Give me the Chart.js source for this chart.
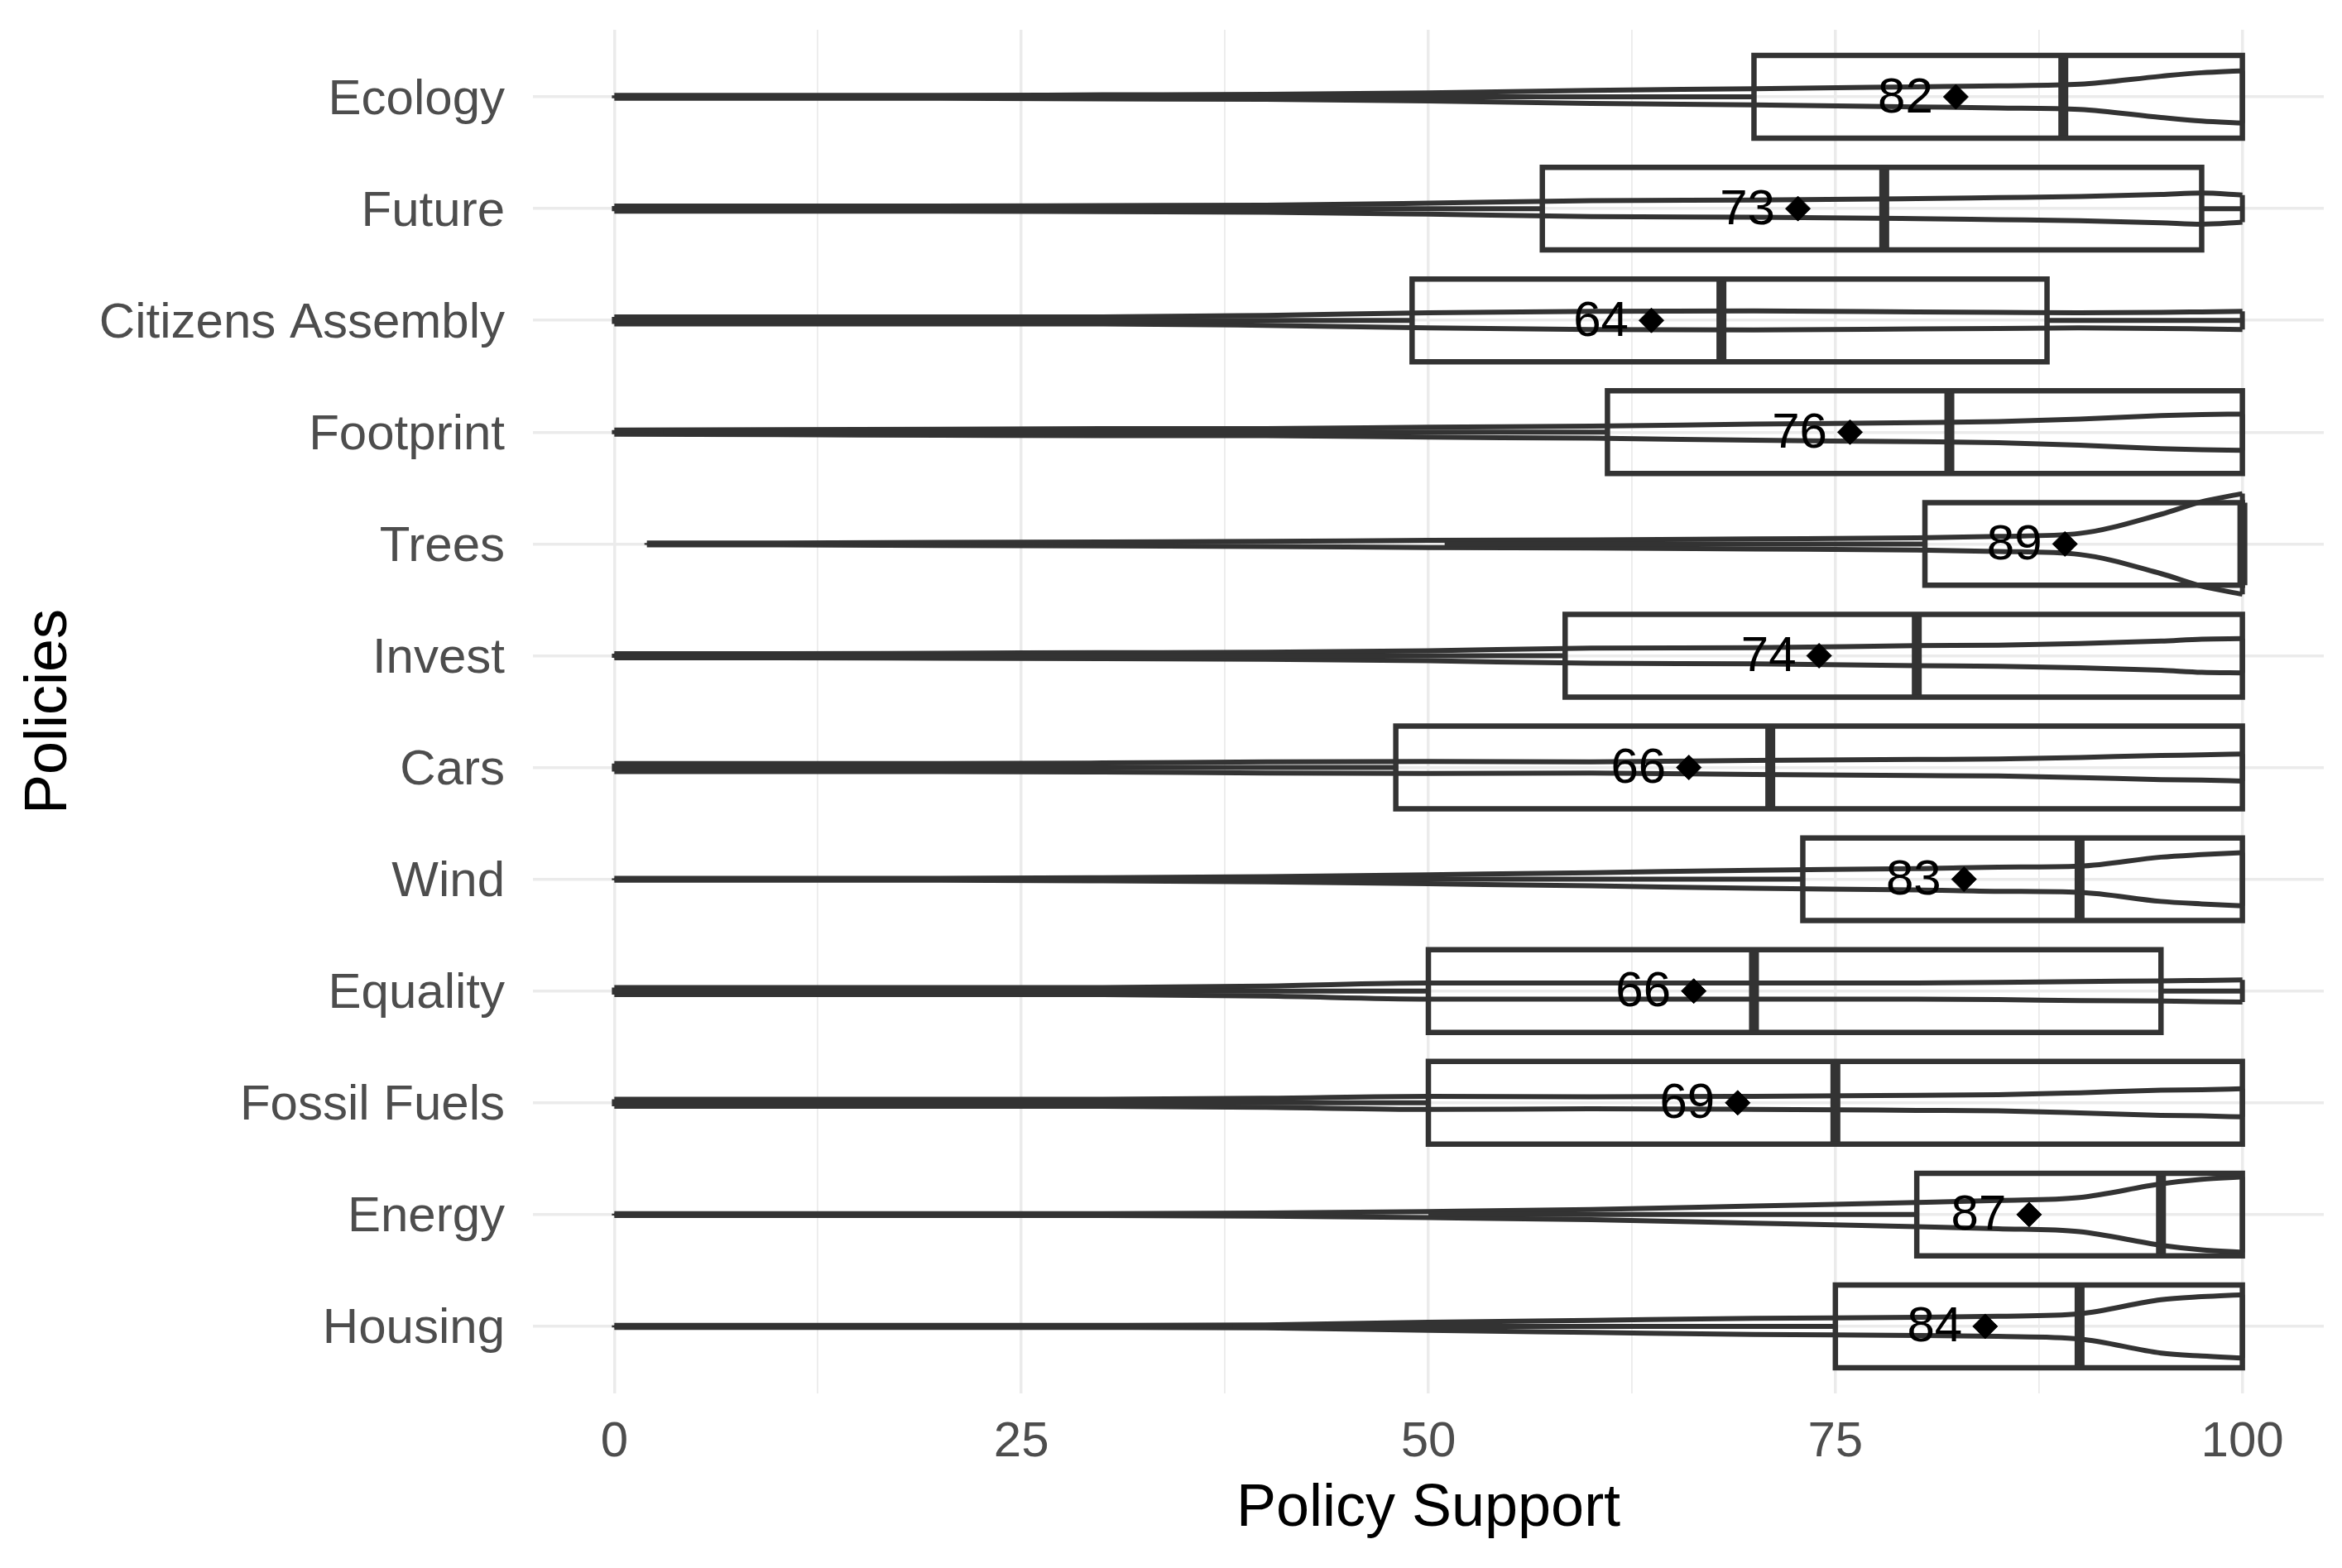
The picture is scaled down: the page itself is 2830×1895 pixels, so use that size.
<!DOCTYPE html>
<html>
<head>
<meta charset="utf-8">
<script src="https://cdn.jsdelivr.net/npm/chart.js@4.4.1/dist/chart.umd.min.js"></script>
<style>
html, body { margin: 0; padding: 0; background: #fff; }
#wrap { width: 2830px; height: 1895px; }
</style>
</head>
<body>
<div id="wrap"><canvas id="chart"></canvas></div>
<script>
// policies top to bottom
const policies = ['Ecology', 'Future', 'Citizens Assembly', 'Footprint', 'Trees', 'Invest',
                  'Cars', 'Wind', 'Equality', 'Fossil Fuels', 'Energy', 'Housing'];

// boxplot stats
const q1          = [70, 57, 49, 61, 80.5, 58.4, 48, 73, 50, 50, 80, 75];
const medians     = [89, 78, 68, 82, 100, 80, 71, 90, 70, 75, 95, 90];
const q3          = [100, 97.5, 88, 100, 100, 100, 100, 100, 95, 100, 100, 100];
const whiskerLow  = [25, 0, 0, 3, 51, 0, 0, 33, 0, 0, 50, 38];
const whiskerHigh = [100, 100, 100, 100, 100, 100, 100, 100, 100, 100, 100, 100];
const means       = [82.4, 72.7, 63.7, 75.9, 89.1, 74.0, 66.0, 82.9, 66.3, 69.0, 86.9, 84.2];

// violin range and relative density (100 = widest violin)
const violinMin = [0, 0, 0, 0, 2, 0, 0, 0, 0, 0, 0, 0];
const violinMax = [100, 100, 100, 100, 100, 100, 100, 100, 100, 100, 100, 100];
const densityX  = [0, 10, 20, 30, 40, 50, 60, 70, 80, 85, 90, 95, 97.5, 100];

const densEcology   = [3, 3, 3, 4, 5, 8, 13, 16, 20, 22, 25, 41, 48, 52];
const densFuture    = [5, 5, 5, 6, 7, 11, 16, 17, 20, 22, 24, 28, 31, 27];
const densCitizens  = [7, 7, 7, 7, 10, 15, 18, 19, 17, 16, 15, 16, 17, 18];
const densFootprint = [4, 5, 6, 7, 7, 10, 12, 16, 19, 21, 26, 33, 35, 36];
const densTrees     = [2, 2, 3, 4, 5, 7, 8, 10, 12, 15, 21, 59, 84, 100];
const densInvest    = [4, 4, 5, 6, 7, 10, 15, 16, 20, 21, 24, 29, 33, 34];
const densCars      = [8, 8, 8, 9, 11, 12, 11, 14, 16, 17, 20, 24, 25, 27];
const densWind      = [2, 2, 2, 3, 5, 9, 13, 18, 21, 24, 26, 44, 49, 53];
const densEquality  = [7, 7, 7, 7, 10, 16, 16, 16, 16, 17, 19, 20, 21, 22];
const densFossil    = [7, 7, 7, 7, 9, 13, 12, 13, 15, 16, 20, 25, 26, 28];
const densEnergy    = [2, 2, 2, 2, 3, 6, 10, 17, 24, 28, 34, 61, 70, 75];
const densHousing   = [2, 2, 2, 2, 3, 8, 12, 16, 18, 20, 25, 53, 59, 63];
const densities = [densEcology, densFuture, densCitizens, densFootprint, densTrees, densInvest,
                   densCars, densWind, densEquality, densFossil, densEnergy, densHousing];

const xMajorTicks = [0, 25, 50, 75, 100];
const xMinorTicks = [12.5, 37.5, 62.5, 87.5];

const INK = '#333333';
const BOX_HALF = 0.37;     // half box height, in category units
const VIOLIN_HALF = 0.45;  // half width of the widest violin
const LABEL_NUDGE = -3.1;

function vw(i, k) { return densities[i][k] / 100 * VIOLIN_HALF; }

function violinSide(i, sign) {
    return densityX.map((x, k) => ({
        x: k === 0 ? Math.max(x, violinMin[i]) : (k === densityX.length - 1 ? violinMax[i] : x),
        y: i + sign * vw(i, k)
    }));
}

const datasets = [];

datasets.push({
    label: 'mean', data: means.map((m, i) => ({x: m, y: i})),
    pointStyle: 'rectRot', pointRadius: 15, backgroundColor: '#000', borderColor: '#000',
    borderWidth: 1, order: 0
});

const boxPts = [], medPts = [], whiskPts = [], capPts = [];
policies.forEach((p, i) => {
    boxPts.push({x: q1[i], y: i - BOX_HALF}, {x: q3[i], y: i - BOX_HALF}, {x: q3[i], y: i + BOX_HALF},
                {x: q1[i], y: i + BOX_HALF}, {x: q1[i], y: i - BOX_HALF}, {x: null, y: null});
    medPts.push({x: medians[i], y: i - BOX_HALF}, {x: medians[i], y: i + BOX_HALF}, {x: null, y: null});
    whiskPts.push({x: whiskerLow[i], y: i}, {x: q1[i], y: i}, {x: null, y: null},
                  {x: q3[i], y: i}, {x: whiskerHigh[i], y: i}, {x: null, y: null});
    const last = densityX.length - 1;
    capPts.push({x: violinMin[i], y: i - vw(i, 0)}, {x: violinMin[i], y: i + vw(i, 0)}, {x: null, y: null},
                {x: violinMax[i], y: i - vw(i, last)}, {x: violinMax[i], y: i + vw(i, last)}, {x: null, y: null});
});

const lineDefaults = {showLine: true, pointRadius: 0, borderColor: INK, spanGaps: false};

datasets.push(Object.assign({label: 'box', data: boxPts, borderWidth: 6.5,
    borderJoinStyle: 'miter', borderCapStyle: 'square', order: 1}, lineDefaults));
datasets.push(Object.assign({label: 'median', data: medPts, borderWidth: 12,
    borderCapStyle: 'butt', order: 1}, lineDefaults));
datasets.push(Object.assign({label: 'whisker', data: whiskPts, borderWidth: 6, order: 2}, lineDefaults));
datasets.push(Object.assign({label: 'violin ends', data: capPts, borderWidth: 6, order: 3}, lineDefaults));

policies.forEach((p, i) => {
    [-1, 1].forEach(sign => {
        datasets.push(Object.assign({
            label: p, data: violinSide(i, sign), borderWidth: 6,
            cubicInterpolationMode: 'monotone', order: 3
        }, lineDefaults));
    });
});

const meanLabels = {
    id: 'meanLabels',
    afterDatasetsDraw(chart) {
        const {ctx, scales} = chart;
        ctx.save();
        ctx.font = '60px "Liberation Sans", Arial, sans-serif';
        ctx.fillStyle = '#000';
        ctx.textAlign = 'center';
        ctx.textBaseline = 'middle';
        means.forEach((m, i) => {
            ctx.fillText(String(Math.round(m)), scales.x.getPixelForValue(m + LABEL_NUDGE), scales.y.getPixelForValue(i) + 2);
        });
        ctx.restore();
    }
};

const whiteBg = {
    id: 'whiteBg',
    beforeDraw(chart) {
        const ctx = chart.ctx;
        ctx.save();
        ctx.fillStyle = '#fff';
        ctx.fillRect(0, 0, chart.width, chart.height);
        ctx.restore();
    }
};

Chart.defaults.font.family = '"Liberation Sans", Arial, sans-serif';

function load() {
    new Chart(document.getElementById('chart'), {
        type: 'scatter',
        data: {datasets: datasets},
        plugins: [whiteBg, meanLabels],
        options: {
            responsive: true,
            maintainAspectRatio: false,
            devicePixelRatio: 1,
            animation: false,
            layout: {padding: {top: 36, right: 22, left: 0, bottom: 0}},
            plugins: {legend: {display: false}, tooltip: {enabled: false}},
            scales: {
                x: {
                    type: 'linear', min: -5, max: 105,
                    border: {display: false},
                    grid: {
                        drawTicks: false, color: '#EBEBEB',
                        lineWidth: (c) => (c.tick && xMajorTicks.includes(c.tick.value)) ? 3.5 : 1.8
                    },
                    afterBuildTicks: (s) => {
                        s.ticks = xMajorTicks.concat(xMinorTicks).sort((a, b) => a - b).map(v => ({value: v}));
                    },
                    ticks: {
                        padding: 23, color: '#4D4D4D', font: {size: 60}, maxRotation: 0, autoSkip: false,
                        callback: (v) => xMajorTicks.includes(v) ? String(v) : ''
                    },
                    afterFit: (s) => { s.height = 211; s.paddingLeft = 0; s.paddingRight = 0; },
                    title: {display: true, text: 'Policy Support', color: '#000', font: {size: 72},
                            padding: {top: 0, bottom: 28}}
                },
                y: {
                    type: 'linear', min: -0.6, max: 11.6, reverse: true,
                    border: {display: false},
                    grid: {drawTicks: false, color: '#EBEBEB', lineWidth: 3.5},
                    afterBuildTicks: (s) => { s.ticks = policies.map((p, i) => ({value: i})); },
                    ticks: {
                        padding: 34, color: '#4D4D4D', font: {size: 60}, autoSkip: false, labelOffset: 4,
                        callback: (v) => policies[v]
                    },
                    afterFit: (s) => { s.width = 644; s.paddingTop = 0; s.paddingBottom = 0; },
                    title: {display: true, text: 'Policies', color: '#000', font: {size: 72},
                            padding: {top: 17, bottom: 0}}
                }
            }
        }
    });
}

window.onload = () => { load(); };
</script>
</body>
</html>
